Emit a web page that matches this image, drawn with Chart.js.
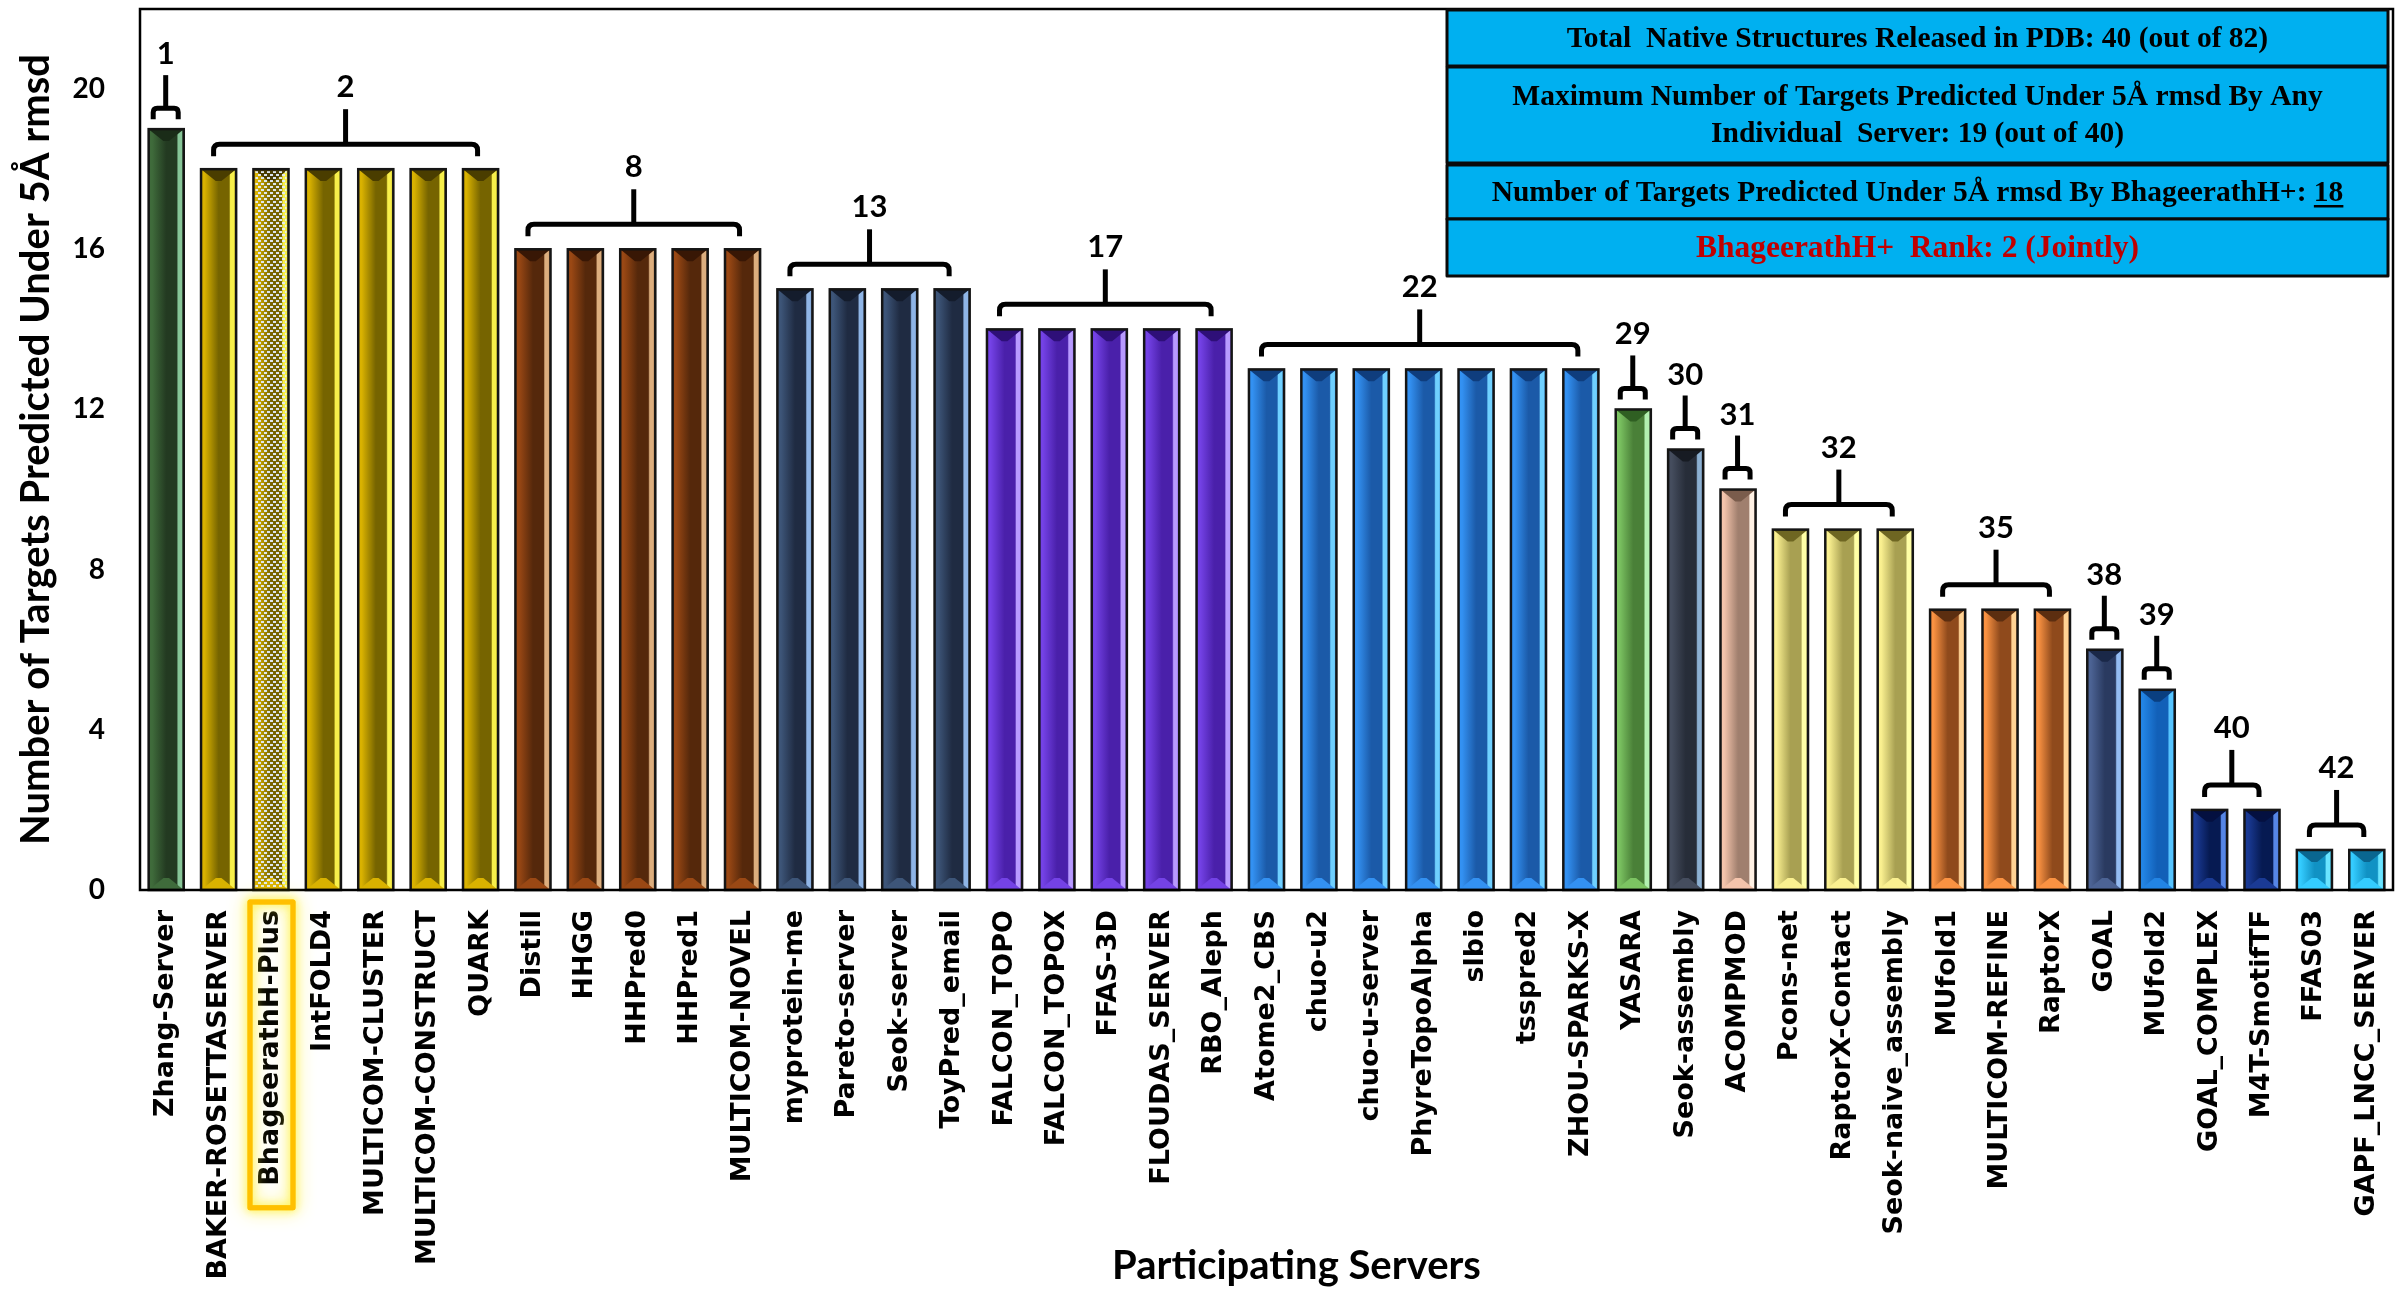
<!DOCTYPE html>
<html><head><meta charset="utf-8">
<script src="https://cdn.jsdelivr.net/npm/chart.js@4.4.0/dist/chart.umd.min.js"></script>
<style>html,body{margin:0;padding:0;background:#fff;overflow:hidden}</style>
</head><body>
<canvas id="c" width="2405" height="1290"></canvas>
<script>
// ---------------- DATA ----------------
const servers = ["Zhang-Server","BAKER-ROSETTASERVER","BhageerathH-Plus","IntFOLD4","MULTICOM-CLUSTER","MULTICOM-CONSTRUCT","QUARK",
 "Distill","HHGG","HHPred0","HHPred1","MULTICOM-NOVEL",
 "myprotein-me","Pareto-server","Seok-server","ToyPred_email",
 "FALCON_TOPO","FALCON_TOPOX","FFAS-3D","FLOUDAS_SERVER","RBO_Aleph",
 "Atome2_CBS","chuo-u2","chuo-u-server","PhyreTopoAlpha","slbio","tsspred2","ZHOU-SPARKS-X",
 "YASARA","Seok-assembly","ACOMPMOD","Pcons-net","RaptorX-Contact","Seok-naive_assembly",
 "MUfold1","MULTICOM-REFINE","RaptorX","GOAL","MUfold2","GOAL_COMPLEX","M4T-SmotifTF","FFAS03","GAPF_LNCC_SERVER"];
const targetsUnder5A = [19,18,18,18,18,18,18, 16,16,16,16,16, 15,15,15,15, 14,14,14,14,14, 13,13,13,13,13,13,13,
 12,11,10,9,9,9, 7,7,7,6,5,2,2,1,1];
const rankLabels = ["1","2","8","13","17","22","29","30","31","32","35","38","39","40","42"];
const groupStart = [0,1,7,12,16,21,28,29,30,31,34,37,38,39,41];
const groupEnd   = [0,6,11,15,20,27,28,29,30,33,36,37,38,40,42];
const yTickValues = [0,4,8,12,16,20];
const highlightServer = "BhageerathH-Plus";
const infoBoxes = [
  ["Total  Native Structures Released in PDB: 40 (out of 82)"],
  ["Maximum Number of Targets Predicted Under 5Å rmsd By Any","Individual  Server: 19 (out of 40)"],
  ["Number of Targets Predicted Under 5Å rmsd By BhageerathH+: ", "18"],
  ["BhageerathH+  Rank: 2 (Jointly)"]
];
const xTitle = "Participating Servers";
const yTitle = "Number of Targets Predicted Under 5Å rmsd";

// ---------------- STYLE ----------------
// [left light, center dark, right highlight, top bevel]
const palette = [
 ['#3f6b3b','#233a21','#86c597','#1a2c18'],
 ['#d9b200','#766400','#f7ef4a','#4a3d00'],
 ['#9a4814','#55280b','#dcae7e','#381705'],
 ['#3d5578','#1f2b42','#8fb5e6','#141c2c'],
 ['#7442e6','#4a20aa','#b89aff','#2e0f78'],
 ['#3391f2','#1b5aa8','#6fd0ff','#0f3d7d'],
 ['#7cc462','#4a8038','#b2f0b0','#2f5f22'],
 ['#454d5e','#272d39','#8cb0d2','#171b23'],
 ['#f4c4ac','#a07f6e','#fff1e4','#7a5c4c'],
 ['#faf090','#a8a052','#ffffa6','#6e6622'],
 ['#fa9242','#8f4a1c','#ffd294','#5c2e10'],
 ['#4c6394','#2a3a60','#94bcf2','#1a2848'],
 ['#2284e4','#1260b8','#55c4ff','#0a3f80'],
 ['#1a3a94','#061a52','#5686e6','#041040'],
 ['#34ccff','#1192c4','#6ae4ff','#0a6690']
];
const groupOf = servers.map((_, i) => groupStart.findIndex((s, g) => i >= s && i <= groupEnd[g]));

function makeDotPattern(ctx){
  const c = document.createElement('canvas'); c.width = 6; c.height = 6;
  const g = c.getContext('2d');
  g.fillStyle = 'rgba(225,236,250,0.95)';
  g.fillRect(0,0,3,2); g.fillRect(3,3,3,2);
  return ctx.createPattern(c,'repeat');
}

const bevelPlugin = {
  id: 'bevel',
  afterDatasetsDraw(chart){
    const ctx = chart.ctx;
    const meta = chart.getDatasetMeta(0);
    const hi = servers.indexOf(highlightServer);
    meta.data.forEach((bar, i) => {
      const p = palette[groupOf[i]];
      const w = bar.width, l = bar.x - w/2, r = bar.x + w/2, t = bar.y, b = bar.base, h = b - t;
      ctx.save();
      const g = ctx.createLinearGradient(l,0,r,0);
      g.addColorStop(0,p[0]); g.addColorStop(0.1,p[0]); g.addColorStop(0.5,p[1]);
      g.addColorStop(0.8,p[1]); g.addColorStop(0.84,p[2]); g.addColorStop(0.94,p[2]); g.addColorStop(1,p[1]);
      ctx.fillStyle = g; ctx.fillRect(l,t,w,h);
      const d = Math.min(w*0.34, h/2);
      const inL = l + w*0.42, inR = r - w*0.42;
      ctx.fillStyle = p[3];
      ctx.beginPath(); ctx.moveTo(l,t); ctx.lineTo(r,t); ctx.lineTo(inR,t+d); ctx.lineTo(inL,t+d); ctx.closePath(); ctx.fill();
      ctx.fillStyle = p[0];
      ctx.beginPath(); ctx.moveTo(l,b); ctx.lineTo(r,b); ctx.lineTo(inR,b-d); ctx.lineTo(inL,b-d); ctx.closePath(); ctx.fill();
      if (i === hi){
        ctx.fillStyle = makeDotPattern(ctx);
        ctx.fillRect(l+2,t+2,w-4,h-4);
      }
      ctx.strokeStyle = '#151515'; ctx.lineWidth = 2.5;
      ctx.strokeRect(l,t,w,h);
      ctx.restore();
    });
  }
};

const annotPlugin = {
  id: 'annot',
  afterDraw(chart){
    const ctx = chart.ctx, xs = chart.scales.x, ys = chart.scales.y, ca = chart.chartArea;
    ctx.save();
    // plot border
    ctx.strokeStyle = '#000'; ctx.lineWidth = 2.5;
    ctx.strokeRect(ca.left, ca.top, ca.right - ca.left, ca.bottom - ca.top);
    // braces + rank labels
    ctx.lineWidth = 5; ctx.strokeStyle = '#000'; ctx.fillStyle = '#000';
    ctx.lineJoin = 'round';
    ctx.font = 'bold 31px Lato';
    ctx.textAlign = 'center'; ctx.textBaseline = 'middle';
    groupStart.forEach((s, gi) => {
      const e = groupEnd[gi];
      const px0 = xs.getPixelForValue(s), px1 = xs.getPixelForValue(e);
      const yt = ys.getPixelForValue(targetsUnder5A[s]);
      let x0, x1, yEnd, yH, yStem, yLab, rr;
      if (s === e){ x0 = px0-13; x1 = px0+12; yEnd = yt-10; yH = yt-21; yStem = yt-54; yLab = yt-75; rr = 4; }
      else { x0 = px0-5; x1 = px1-3; yEnd = yt-13; yH = yt-25; yStem = yt-60; yLab = yt-82; rr = 6; }
      const xc = (x0 + x1)/2;
      ctx.beginPath();
      ctx.moveTo(x0, yEnd); ctx.lineTo(x0, yH+rr); ctx.quadraticCurveTo(x0, yH, x0+rr, yH);
      ctx.lineTo(x1-rr, yH); ctx.quadraticCurveTo(x1, yH, x1, yH+rr); ctx.lineTo(x1, yEnd);
      ctx.stroke();
      ctx.beginPath(); ctx.moveTo(xc, yH); ctx.lineTo(xc, yStem); ctx.stroke();
      ctx.fillText(rankLabels[gi], xc, yLab);
    });
    // info boxes
    const bl = ca.right - 946, br = ca.right - 5, bw = br - bl, bx = (bl+br)/2;
    const t0 = ca.top + 1;
    const boxes = [[t0, t0+56],[t0+57, t0+153],[t0+155, t0+209],[t0+209, t0+266]];
    boxes.forEach(([t,b]) => {
      ctx.fillStyle = '#00b0f0'; ctx.fillRect(bl, t, bw, b-t);
      ctx.strokeStyle = '#0a0a0a'; ctx.lineWidth = 3; ctx.strokeRect(bl, t, bw, b-t);
    });
    ctx.font = 'bold 29.5px "Liberation Serif"';
    ctx.textBaseline = 'middle'; ctx.textAlign = 'center';
    ctx.fillStyle = '#000';
    ctx.fillText(infoBoxes[0][0], bx, (boxes[0][0]+boxes[0][1])/2 + 1);
    const c2 = (boxes[1][0]+boxes[1][1])/2;
    ctx.fillText(infoBoxes[1][0], bx, c2 - 18);
    ctx.fillText(infoBoxes[1][1], bx, c2 + 19);
    const pre = infoBoxes[2][0], num = infoBoxes[2][1];
    const wPre = ctx.measureText(pre).width, wNum = ctx.measureText(num).width;
    const sx = bx - (wPre + wNum)/2, c3 = (boxes[2][0]+boxes[2][1])/2 + 1;
    ctx.textAlign = 'left';
    ctx.fillText(pre, sx, c3);
    ctx.fillText(num, sx + wPre, c3);
    ctx.fillRect(sx + wPre, c3 + 12, wNum, 2.5);
    ctx.textAlign = 'center';
    ctx.fillStyle = '#c00000';
    ctx.font = 'bold 31.5px "Liberation Serif"';
    ctx.fillText(infoBoxes[3][0], bx, (boxes[3][0]+boxes[3][1])/2 + 1);
    // axis titles
    ctx.fillStyle = '#000';
    ctx.font = 'bold 40px Lato';
    ctx.textAlign = 'center'; ctx.textBaseline = 'middle';
    ctx.fillText(xTitle, (ca.left+ca.right)/2 + 30, 1266);
    ctx.save();
    ctx.translate(36, (ca.top+ca.bottom)/2);
    ctx.rotate(-Math.PI/2);
    ctx.fillText(yTitle, 0, 0);
    ctx.restore();
    // highlighted tick label box
    const hi = servers.indexOf(highlightServer);
    const hx = xs.getPixelForValue(hi);
    ctx.font = 'bold 27px "DejaVu Sans"';
    const lw = ctx.measureText(highlightServer).width;
    const top = ca.bottom + 12, bot = ca.bottom + 20 + lw + 22;
    ctx.strokeStyle = '#ffc000'; ctx.lineWidth = 5;
    ctx.shadowColor = 'rgba(255,240,40,0.95)'; ctx.shadowBlur = 18;
    ctx.strokeRect(hx - 21, top, 43, bot - top);
    ctx.shadowBlur = 8;
    ctx.strokeRect(hx - 21, top, 43, bot - top);
    ctx.restore();
  }
};

new Chart(document.getElementById('c'), {
  type: 'bar',
  data: {
    labels: servers,
    datasets: [{
      data: targetsUnder5A,
      backgroundColor: servers.map((_, i) => palette[groupOf[i]][1]),
      borderWidth: 0,
      barPercentage: 0.67,
      categoryPercentage: 1.0
    }]
  },
  options: {
    responsive: false,
    animation: false,
    devicePixelRatio: 1,
    layout: { padding: { top: 9, right: 12, left: 0, bottom: 0 } },
    plugins: { legend: { display: false }, tooltip: { enabled: false } },
    scales: {
      x: {
        grid: { display: false, drawTicks: false },
        border: { display: false },
        ticks: { color: '#000', font: { family: 'DejaVu Sans', weight: 'bold', size: 27 },
                 maxRotation: 90, minRotation: 90, autoSkip: false, padding: 20 },
        afterFit(scale){ scale.height = 400; scale.paddingLeft = 0; scale.paddingRight = 0; scale.paddingTop = 0; scale.paddingBottom = 0; }
      },
      y: {
        min: 0, max: 22,
        grid: { display: false, drawTicks: false },
        border: { display: false },
        afterBuildTicks(scale){ scale.ticks = yTickValues.map(v => ({ value: v })); },
        ticks: { color: '#000', font: { family: 'Lato', weight: 'bold', size: 28 }, padding: 35 },
        afterFit(scale){ scale.width = 140; scale.paddingLeft = 0; scale.paddingRight = 0; scale.paddingTop = 0; scale.paddingBottom = 0; }
      }
    }
  },
  plugins: [bevelPlugin, annotPlugin]
});
</script>
</body></html>
